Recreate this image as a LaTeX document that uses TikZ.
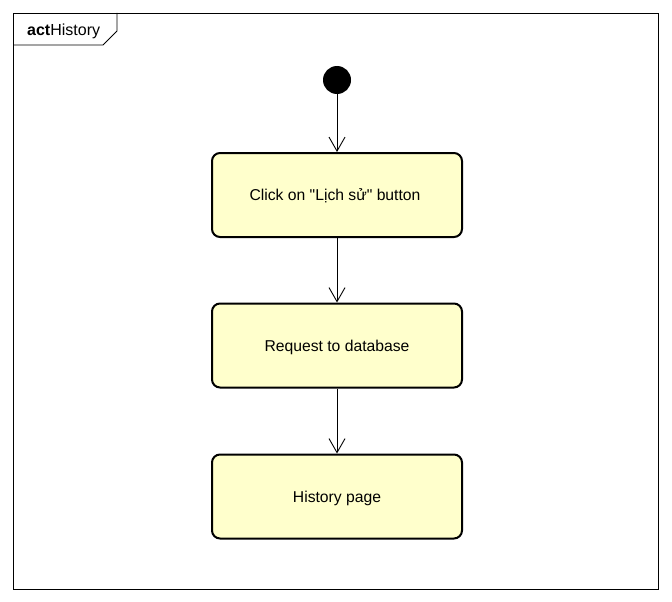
\documentclass[tikz,border=0pt]{standalone}
\usepackage{fontspec}
\setmainfont{Liberation Sans}
\newfontfamily\lsans{Liberation Sans}
\usetikzlibrary{arrows.meta}
\definecolor{actfill}{RGB}{255,255,204}
\begin{document}
\begin{tikzpicture}[x=1pt,y=-1pt,
  actbox/.style={draw=black,line width=2pt,fill=actfill,rounded corners=8pt,minimum width=250pt,minimum height=84pt,inner sep=0pt,text height=15pt,text depth=3.3pt,font=\lsans\fontsize{15.7}{18}\selectfont},
  flow/.style={draw=black,line width=0.9pt,-{Straight Barb[length=14pt,width=16pt,line width=0.9pt]}}]
\useasboundingbox (0,0) rectangle (672,602);
\draw[line width=0.9pt] (13,13) rectangle (658,589);
\draw[line width=0.9pt] (13,45) -- (103,45) -- (117,31) -- (117,13);
\node[anchor=west,inner sep=0pt,font=\fontsize{16}{18}\selectfont] (title) at (27,31.5) {\textbf{act}History};
\node[circle,fill=black,minimum size=28pt,inner sep=0pt] (start) at (337,80) {};
\node[actbox] (a) at (337,195) {Click on "Lịch sử" button\kern4pt};
\node[actbox] (b) at (337,345.5) {Request to database};
\node[actbox] (c) at (337,496.5) {History page};
\draw[flow] (start) -- (a);
\draw[flow] (a) -- (b);
\draw[flow] (b) -- (c);
\end{tikzpicture}
\end{document}
